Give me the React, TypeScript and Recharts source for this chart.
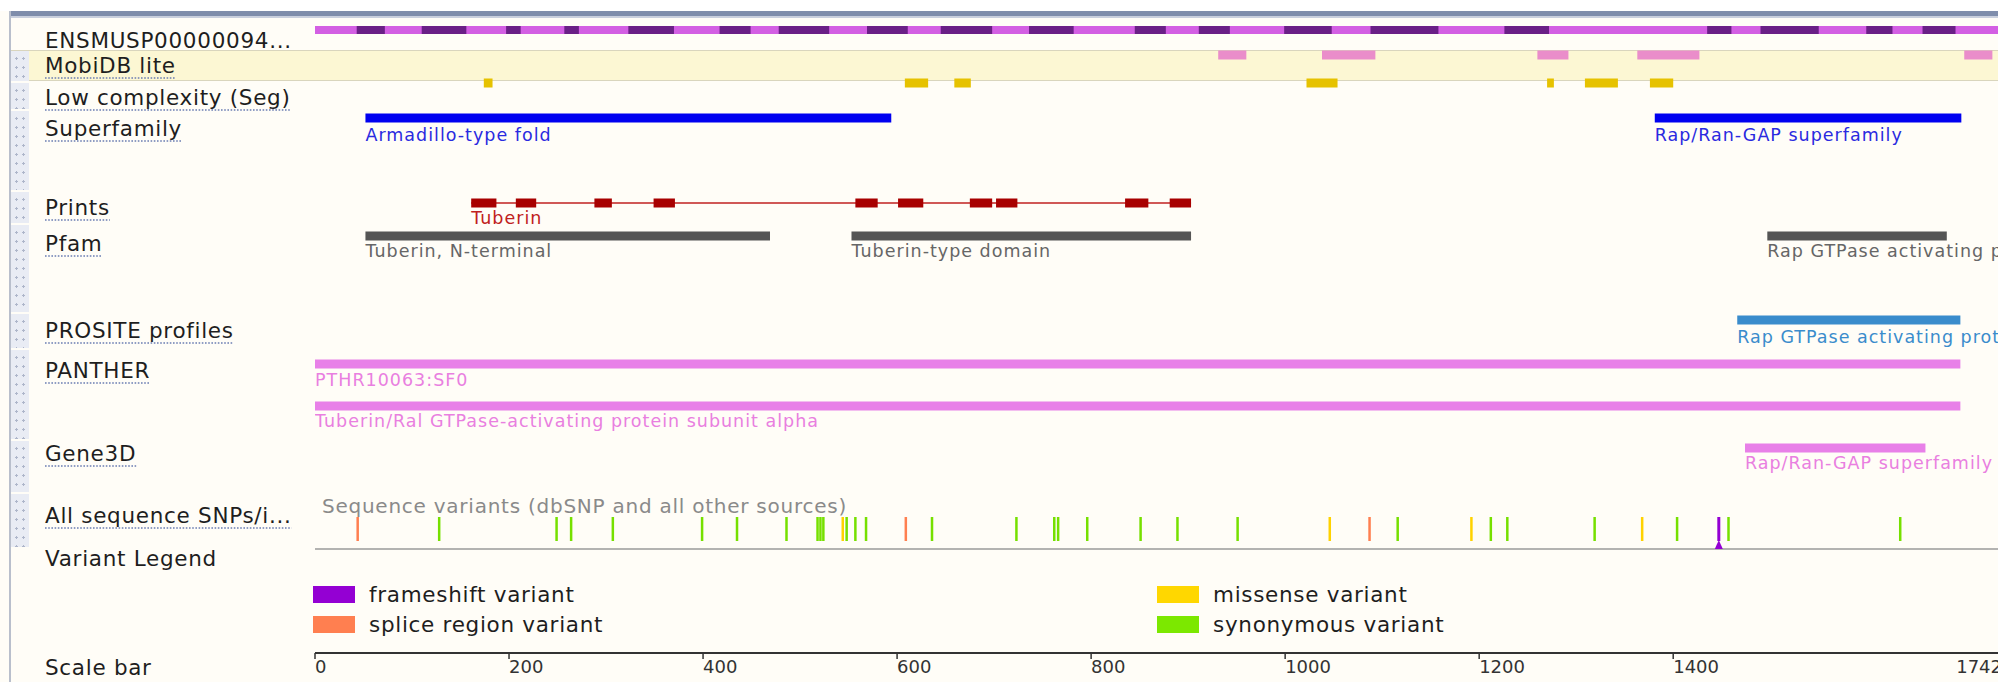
import React from 'react';
import { ComposedChart, Line, Scatter, XAxis, YAxis, ReferenceLine } from 'recharts';

// ---------------- data (amino-acid positions) ----------------
const PROTEIN_LENGTH = 1742;
const SCALE_TICKS = [0, 200, 400, 600, 800, 1000, 1200, 1400, 1742];
const TRACK_NAMES = [
  'ENSMUSP00000094...',
  'MobiDB lite',
  'Low complexity (Seg)',
  'Superfamily',
  'Prints',
  'Pfam',
  'PROSITE profiles',
  'PANTHER',
  'Gene3D',
  'All sequence SNPs/i...',
  'Variant Legend',
];
const EXON_BLOCKS = [
  [43, 72], [110, 156], [197, 212], [257, 272], [323, 370], [417, 449], [478, 530],
  [569, 611], [645, 698], [736, 782], [845, 877], [911, 943], [999, 1048], [1088, 1158],
  [1226, 1272], [1435, 1460], [1490, 1550], [1599, 1626], [1657, 1691],
];
const MOBIDB_LITE = [[931, 960], [1038, 1093], [1260, 1292], [1363, 1427], [1700, 1729]];
const LOW_COMPLEXITY = [[174, 183], [608, 632], [659, 676], [1022, 1054], [1270, 1277], [1309, 1343], [1376, 1400]];
const SUPERFAMILY = [[52, 594], [1381, 1697]];
const SUPERFAMILY_LABELS = ['Armadillo-type fold', 'Rap/Ran-GAP superfamily'];
const PRINTS_MOTIFS = [[161, 187], [207, 228], [288, 306], [349, 371], [557, 580], [601, 627], [675, 698], [702, 724], [835, 859], [881, 903]];
const PRINTS_LABELS = ['Tuberin'];
const PFAM = [[52, 469], [553, 903], [1497, 1682]];
const PFAM_LABELS = ['Tuberin, N-terminal', 'Tuberin-type domain', 'Rap GTPase activating protein domain'];
const PROSITE = [[1466, 1696]];
const PROSITE_LABELS = ['Rap GTPase activating protein domain'];
const PANTHER_A = [[0, 1696]];
const PANTHER_A_LABELS = ['PTHR10063:SF0'];
const PANTHER_B = [[0, 1696]];
const PANTHER_B_LABELS = ['Tuberin/Ral GTPase-activating protein subunit alpha'];
const GENE3D = [[1474, 1660]];
const GENE3D_LABELS = ['Rap/Ran-GAP superfamily'];
const SNP_SYNONYMOUS = [128, 249, 264, 307, 399, 435, 486, 518, 521, 524, 548, 557, 568, 636, 723, 762, 766, 796, 851, 889, 951, 1116, 1212, 1229, 1319, 1404, 1457, 1634];
const SNP_MISSENSE = [544, 1046, 1192, 1368];
const SNP_SPLICE = [44, 609, 1087];
const SNP_FRAMESHIFT = [1447];
const LEGEND_ITEMS = ['frameshift variant', 'splice region variant', 'missense variant', 'synonymous variant'];
const SNP_HEADER = 'Sequence variants (dbSNP and all other sources)';

// ---------------- layout / style ----------------
const FONT = '"DejaVu Sans", Verdana, sans-serif';
const W = 2010;
const H = 682;
const PLOT_LEFT = 315;
const AXIS_Y = 653;
const LABEL_SIZE = 21.5;
const LABEL_SPACING = 0.7;
const TRACK_LABEL_Y = [40, 65, 97, 128, 207, 243, 330, 370, 453, 515, 558];
const TRACK_LINKED = [false, true, true, true, true, true, true, true, true, true, false];
const ROW = {
  protein: 30, mobidb: 55, lowc: 83, superfamily: 118, superfamilyLabel: 135,
  prints: 203, printsLabel: 218, pfam: 236, pfamLabel: 251, prosite: 320, prositeLabel: 337,
  pantherA: 364, pantherALabel: 380, pantherB: 406, pantherBLabel: 421, gene3d: 448, gene3dLabel: 463,
  snpTop: 517, snpBottom: 541, frameshiftTri: 545, separator: 549,
};
const COLORS = {
  exonLight: '#d35fe3', exonDark: '#6a1f86', mobidb: '#ea8dca', lowc: '#e6c200',
  superfamily: '#0000f0', prints: '#a80000', printsLine: '#c02020', pfam: '#555555', pfamText: '#666666',
  prosite: '#3a8ccc', panther: '#e880e8', syn: '#76e000', missense: '#ffd200', splice: '#ff7f50', frameshift: '#9400d3',
};

let _ctx: CanvasRenderingContext2D | null = null;
const measure = (t: string, font: string, spacing: number) => {
  if (!_ctx) _ctx = document.createElement('canvas').getContext('2d');
  if (!_ctx) return t.length * 12;
  _ctx.font = font;
  return _ctx.measureText(t).width + spacing * t.length;
};

const hbar = (blocks: number[][], y: number) =>
  blocks.flatMap(([s, e]) => [{ x: s, y }, { x: e, y }, { x: e, y: null }]);
const vmarks = (pos: number[]) =>
  pos.flatMap((p) => [{ x: p, y: ROW.snpTop }, { x: p, y: ROW.snpBottom }, { x: p, y: null }]);
const labels = (blocks: number[][], names: string[], y: number) =>
  blocks.map(([s], i) => ({ x: s, y, label: names[i] })).filter((d) => d.label);

const textShape = (color: string, size = 17.5, spacing = 1.0) => (p: any) => (
  <text x={p.cx} y={p.cy} dy="0.35em" fill={color} fontSize={size} fontFamily={FONT} letterSpacing={spacing}>
    {p.payload.label}
  </text>
);

const TrackTick = (props: any) => {
  const { y, payload } = props;
  const i = TRACK_LABEL_Y.indexOf(payload.value);
  if (i < 0) return null;
  const name = TRACK_NAMES[i];
  const w = measure(name, `${LABEL_SIZE}px ${FONT}`, LABEL_SPACING);
  return (
    <g>
      <text x={45} y={y} dy="0.35em" fontSize={LABEL_SIZE} letterSpacing={LABEL_SPACING} fontFamily={FONT} fill="#1e1e1e">{name}</text>
      {TRACK_LINKED[i] && (
        <line x1={45} x2={45 + w} y1={y + 13} y2={y + 13} stroke="#6b7db3" strokeWidth={1.6} strokeDasharray="1.6 1.6" />
      )}
      {name.startsWith('All sequence') && (
        <text x={322} y={y - 9} dy="0.35em" fontSize={20} letterSpacing={0.75} fontFamily={FONT} fill="#8a8a8a">{SNP_HEADER}</text>
      )}
    </g>
  );
};

const ScaleTick = (props: any) => {
  const { x, y, payload } = props;
  const last = payload.value === PROTEIN_LENGTH;
  return (
    <g>
      <text x={last ? x - 3 : x} y={y + 6} dy="0.35em" textAnchor={last ? 'end' : 'start'} fontSize={18} fontFamily={FONT} fill="#333">
        {payload.value}
      </text>
      {payload.value === 0 && (
        <text x={45} y={y + 6} dy="0.35em" fontSize={LABEL_SIZE} letterSpacing={LABEL_SPACING} fontFamily={FONT} fill="#1e1e1e">Scale bar</text>
      )}
    </g>
  );
};

const triangle = (p: any) => (
  <path d={`M${p.cx},${p.cy - 5} L${p.cx + 4},${p.cy + 4} L${p.cx - 4},${p.cy + 4} Z`} fill={COLORS.frameshift} />
);

const STRIP_BREAKS = [50, 82, 110, 191, 224, 313, 349, 440, 493, 548];
const LEGEND_COLORS = [COLORS.frameshift, COLORS.splice, '#ffd700', '#7ce800'];

const hline = (data: any[], color: string, width: number) => (
  <Line data={data} dataKey="y" stroke={color} strokeWidth={width} dot={false} activeDot={false}
    isAnimationActive={false} type="linear" legendType="none" strokeLinecap="butt" />
);

export default function App() {
  return (
    <div style={{ position: 'absolute', left: 0, top: 0, width: 1998, height: H, overflow: 'hidden', background: '#fffdf7', fontFamily: FONT }}>
      {/* decorative panel frame */}
      <div style={{ position: 'absolute', left: 0, top: 0, width: 1998, height: 11, background: '#ffffff' }} />
      <div style={{ position: 'absolute', left: 10, top: 11, width: 1988, height: 5, background: '#7f8dab' }} />
      <div style={{ position: 'absolute', left: 10, top: 16, width: 1988, height: 2, background: '#c9cfdd' }} />
      <div style={{ position: 'absolute', left: 9, top: 11, width: 2, height: H, background: '#b9bfcc' }} />
      <div style={{ position: 'absolute', left: 11, top: 50, width: 1990, height: 31, background: '#fcf7d3', borderTop: '1px solid #d9d5bd', borderBottom: '1px solid #d9d5bd', boxSizing: 'border-box' }} />
      {STRIP_BREAKS.slice(0, -1).map((t, i) => (
        <div key={i} style={{ position: 'absolute', left: 11, top: t + 1, width: 18, height: STRIP_BREAKS[i + 1] - t - 2,
          background: '#e9ecf4', backgroundImage: 'radial-gradient(circle, #aeb6ca 1px, transparent 1.4px)', backgroundSize: '7px 9px', backgroundPosition: '2px 3px' }} />
      ))}
      <div style={{ position: 'absolute', left: 0, top: 0 }}>
        <ComposedChart width={W} height={H} margin={{ top: 0, right: 5, bottom: 0, left: 0 }}>
          <XAxis type="number" dataKey="x" domain={[0, PROTEIN_LENGTH]} ticks={SCALE_TICKS} interval={0} allowDataOverflow
            height={H - AXIS_Y} axisLine={{ stroke: '#333', strokeWidth: 2 }} tickLine={{ stroke: '#333', strokeWidth: 1.5 }}
            tickSize={6} tick={<ScaleTick />} />
          <YAxis type="number" dataKey="y" domain={[0, AXIS_Y]} reversed allowDataOverflow width={PLOT_LEFT}
            ticks={TRACK_LABEL_Y} interval={0} axisLine={false} tickLine={false} tick={<TrackTick />} />
          <ReferenceLine y={ROW.separator} stroke="#9a9a9a" strokeWidth={1.5} />
          {hline(hbar([[0, PROTEIN_LENGTH]], ROW.protein), COLORS.exonLight, 8)}
          {hline(hbar(EXON_BLOCKS, ROW.protein), COLORS.exonDark, 8)}
          {hline(hbar(MOBIDB_LITE, ROW.mobidb), COLORS.mobidb, 9)}
          {hline(hbar(LOW_COMPLEXITY, ROW.lowc), COLORS.lowc, 9)}
          {hline(hbar(SUPERFAMILY, ROW.superfamily), COLORS.superfamily, 9)}
          {hline(hbar([[PRINTS_MOTIFS[0][0], PRINTS_MOTIFS[PRINTS_MOTIFS.length - 1][1]]], ROW.prints), COLORS.printsLine, 1.6)}
          {hline(hbar(PRINTS_MOTIFS, ROW.prints), COLORS.prints, 9)}
          {hline(hbar(PFAM, ROW.pfam), COLORS.pfam, 9)}
          {hline(hbar(PROSITE, ROW.prosite), COLORS.prosite, 9)}
          {hline(hbar(PANTHER_A, ROW.pantherA), COLORS.panther, 9)}
          {hline(hbar(PANTHER_B, ROW.pantherB), COLORS.panther, 9)}
          {hline(hbar(GENE3D, ROW.gene3d), COLORS.panther, 9)}
          {hline(vmarks(SNP_SYNONYMOUS), COLORS.syn, 2.5)}
          {hline(vmarks(SNP_MISSENSE), COLORS.missense, 2.5)}
          {hline(vmarks(SNP_SPLICE), COLORS.splice, 2.5)}
          {hline(vmarks(SNP_FRAMESHIFT), COLORS.frameshift, 3)}
          <Scatter data={SNP_FRAMESHIFT.map((x) => ({ x, y: ROW.frameshiftTri }))} shape={triangle} isAnimationActive={false} legendType="none" />
          <Scatter data={labels(SUPERFAMILY, SUPERFAMILY_LABELS, ROW.superfamilyLabel)} shape={textShape('#2a2ae0')} isAnimationActive={false} legendType="none" />
          <Scatter data={labels(PRINTS_MOTIFS, PRINTS_LABELS, ROW.printsLabel)} shape={textShape('#c02020')} isAnimationActive={false} legendType="none" />
          <Scatter data={labels(PFAM, PFAM_LABELS, ROW.pfamLabel)} shape={textShape(COLORS.pfamText)} isAnimationActive={false} legendType="none" />
          <Scatter data={labels(PROSITE, PROSITE_LABELS, ROW.prositeLabel)} shape={textShape(COLORS.prosite)} isAnimationActive={false} legendType="none" />
          <Scatter data={labels(PANTHER_A, PANTHER_A_LABELS, ROW.pantherALabel)} shape={textShape('#e97fe0')} isAnimationActive={false} legendType="none" />
          <Scatter data={labels(PANTHER_B, PANTHER_B_LABELS, ROW.pantherBLabel)} shape={textShape('#e97fe0')} isAnimationActive={false} legendType="none" />
          <Scatter data={labels(GENE3D, GENE3D_LABELS, ROW.gene3dLabel)} shape={textShape('#e97fe0')} isAnimationActive={false} legendType="none" />
        </ComposedChart>
      </div>
      {/* variant legend */}
      {LEGEND_ITEMS.map((name, i) => {
        const col = i < 2 ? 0 : 1;
        const row = i % 2;
        const left = col === 0 ? 313 : 1157;
        const top = 586 + row * 30;
        return (
          <div key={name} style={{ position: 'absolute', left, top, height: 17, display: 'flex', alignItems: 'center' }}>
            <div style={{ width: 42, height: 17, background: LEGEND_COLORS[i] }} />
            <span style={{ marginLeft: 14, fontSize: LABEL_SIZE, letterSpacing: LABEL_SPACING, color: '#1e1e1e', whiteSpace: 'nowrap' }}>{name}</span>
          </div>
        );
      })}
    </div>
  );
}
